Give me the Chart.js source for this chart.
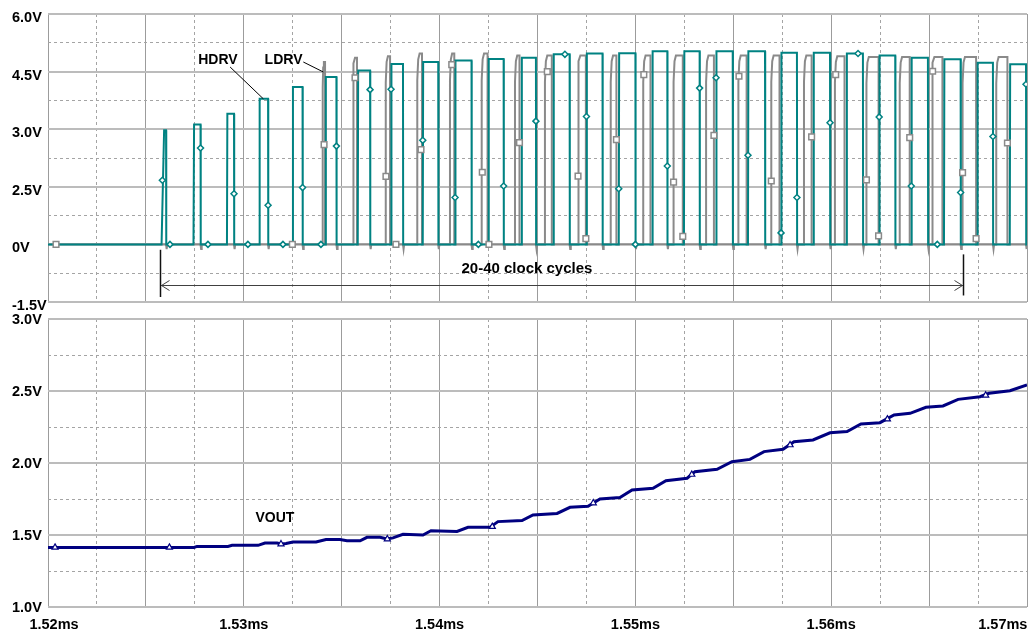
<!DOCTYPE html>
<html>
<head>
<meta charset="utf-8">
<title>HDRV / LDRV / VOUT</title>
<script src="https://cdn.jsdelivr.net/npm/chart.js@4.4.1/dist/chart.umd.min.js"></script>
<style>
  html, body { margin: 0; padding: 0; background: #fff; }
  #wrap { position: relative; width: 1028px; height: 631px; overflow: hidden; }
  .panel { position: absolute; left: 0; width: 1028px; }
  .panel canvas { display: block; }
  #topPanel { top: 0; height: 316px; }
  #bottomPanel { top: 305px; height: 326px; }
</style>
</head>
<body>
<div id="wrap">
  <div class="panel" id="topPanel"><canvas id="drvChart" width="1028" height="316"></canvas></div>
  <div class="panel" id="bottomPanel"><canvas id="voutChart" width="1028" height="326"></canvas></div>
</div>
<script>
// axis labels
const timeLabels = ['1.52ms', '1.53ms', '1.54ms', '1.55ms', '1.56ms', '1.57ms'];
const drvLabels = ['-1.5V', '0V', '2.5V', '3.0V', '4.5V', '6.0V'];
const voutLabels = ['1.0V', '1.5V', '2.0V', '2.5V', '3.0V'];

// HDRV pulses: rising edge (ms), falling edge (ms), plateau (V)
const hdrvRise = [1.52580, 1.52743, 1.52914, 1.53079, 1.53249, 1.53417, 1.53582, 1.53752, 1.53914, 1.54079,
  1.54249, 1.54418, 1.54581, 1.54750, 1.54915, 1.55086, 1.55248, 1.55412, 1.55575, 1.55744,
  1.55909, 1.56078, 1.56245, 1.56409, 1.56576, 1.56746, 1.56912];
const hdrvFall = [1.52603, 1.52779, 1.52950, 1.53124, 1.53300, 1.53473, 1.53645, 1.53813, 1.53993, 1.54163,
  1.54327, 1.54492, 1.54664, 1.54832, 1.55000, 1.55163, 1.55328, 1.55497, 1.55662, 1.55825,
  1.55994, 1.56162, 1.56327, 1.56494, 1.56661, 1.56826, 1.56995];
const hdrvPeak = [2.97, 3.12, 3.40, 3.79, 4.10, 4.36, 4.53, 4.70, 4.75, 4.79,
  4.83, 4.86, 4.95, 4.97, 4.98, 5.03, 5.03, 5.03, 5.03, 4.99,
  4.99, 4.97, 4.92, 4.86, 4.82, 4.73, 4.69];
// time for HDRV to reach its plateau (the first pulse is only a ramp)
const hdrvRamp = [0.00013, 0.00003, 0.00002, 0.00002, 0.00002, 0.00002, 0.00002, 0.00002, 0.00002, 0.00002,
  0.00002, 0.00002, 0.00002, 0.00002, 0.00002, 0.00002, 0.00002, 0.00002, 0.00002, 0.00002,
  0.00002, 0.00002, 0.00002, 0.00002, 0.00002, 0.00002, 0.00002];

// LDRV pulses
const ldrvRise = [1.53403, 1.53558, 1.53725, 1.53886, 1.54053, 1.54215, 1.54385, 1.54538, 1.54707, 1.54874,
  1.55040, 1.55195, 1.55361, 1.55526, 1.55694, 1.55861, 1.56019, 1.56180, 1.56350, 1.56515,
  1.56671, 1.56843];
const ldrvFall = [1.53415, 1.53578, 1.53747, 1.53910, 1.54075, 1.54245, 1.54408, 1.54573, 1.54747, 1.54903,
  1.55077, 1.55242, 1.55401, 1.55568, 1.55736, 1.55900, 1.56068, 1.56242, 1.56401, 1.56568,
  1.56740, 1.56900];
const ldrvPeak = [4.75, 4.86, 4.90, 4.97, 4.97, 4.97, 4.92, 4.92, 4.92, 4.92,
  4.92, 4.92, 4.92, 4.92, 4.92, 4.92, 4.90, 4.88, 4.88, 4.88,
  4.88, 4.88];
// small undershoot on LDRV each time HDRV switches off
const ldrvDip = -0.12;

// trace markers
const hdrvMarkT = [1.52584, 1.52623, 1.52779, 1.52817, 1.52950, 1.53021, 1.53124, 1.53200, 1.53300, 1.53394,
  1.53473, 1.53645, 1.53752, 1.53914, 1.54079, 1.54198, 1.54327, 1.54492, 1.54640, 1.54750,
  1.54915, 1.55000, 1.55163, 1.55328, 1.55412, 1.55575, 1.55744, 1.55825, 1.55994, 1.56137,
  1.56245, 1.56409, 1.56542, 1.56661, 1.56826, 1.56995];
const hdrvMarkV = [1.67, 0, 2.51, 0, 1.32, 0, 1.02, 0, 1.48, 0,
  2.56, 4.03, 4.04, 2.71, 1.22, 0, 1.52, 3.21, 4.95, 3.33,
  1.45, 0, 2.04, 4.07, 4.34, 2.32, 0.3, 1.22, 3.17, 4.97,
  3.32, 1.52, 0, 1.35, 2.81, 4.17];
const ldrvMarkT = [1.52041, 1.53248, 1.53410, 1.53568, 1.53726, 1.53777, 1.53905, 1.54062, 1.54218, 1.54252,
  1.54408, 1.54550, 1.54707, 1.54747, 1.54903, 1.55043, 1.55195, 1.55242, 1.55401, 1.55529,
  1.55694, 1.55900, 1.56023, 1.56180, 1.56242, 1.56401, 1.56518, 1.56671, 1.56740, 1.56900];
const ldrvMarkV = [0, 0, 2.6, 4.34, 1.77, 0, 2.47, 4.68, 1.88, 0,
  2.65, 4.5, 1.78, 0.15, 2.73, 4.42, 1.62, 0.21, 2.84, 4.38,
  1.65, 2.8, 4.42, 1.68, 0.22, 2.78, 4.51, 1.87, 0.15, 2.64];

// VOUT trace
const voutTime = [1.52000, 1.52746, 1.52761, 1.52919, 1.52940, 1.53073, 1.53108, 1.53170, 1.53190, 1.53216,
  1.53251, 1.53369, 1.53420, 1.53491, 1.53527, 1.53594, 1.53629, 1.53696, 1.53731, 1.53762,
  1.53813, 1.53915, 1.53956, 1.54089, 1.54145, 1.54257, 1.54298, 1.54421, 1.54477, 1.54600,
  1.54666, 1.54758, 1.54819, 1.54921, 1.54983, 1.55090, 1.55156, 1.55264, 1.55304, 1.55417,
  1.55493, 1.55585, 1.55657, 1.55754, 1.55810, 1.55907, 1.55994, 1.56081, 1.56152, 1.56249,
  1.56321, 1.56403, 1.56484, 1.56571, 1.56648, 1.56760, 1.56806, 1.56913, 1.57000];
const voutValue = [1.414, 1.414, 1.421, 1.421, 1.428, 1.428, 1.444, 1.444, 1.437, 1.441,
  1.451, 1.451, 1.468, 1.468, 1.460, 1.460, 1.484, 1.484, 1.472, 1.480,
  1.505, 1.500, 1.530, 1.525, 1.553, 1.553, 1.593, 1.600, 1.639, 1.650,
  1.692, 1.700, 1.750, 1.760, 1.812, 1.824, 1.877, 1.894, 1.940, 1.956,
  2.009, 2.025, 2.079, 2.095, 2.148, 2.160, 2.210, 2.218, 2.271, 2.280,
  2.333, 2.345, 2.387, 2.396, 2.442, 2.460, 2.484, 2.502, 2.542];
const voutMarkT = [1.52036, 1.52620, 1.53190, 1.53733, 1.54269, 1.54785, 1.55288, 1.55790, 1.56287, 1.56789];
const voutMarkV = [1.414, 1.414, 1.437, 1.472, 1.558, 1.722, 1.920, 2.125, 2.305, 2.470];

// annotation anchors (data units)
const hdrvNote = { t: 1.52868, v: 4.80, from: [1.52930, 4.62], to: [1.53100, 3.79] };
const ldrvNote = { t: 1.53203, v: 4.80, from: [1.53304, 4.75], to: [1.53406, 4.49] };
const cycleNote = { start: 1.52572, end: 1.56673, v: -1.07, leftBar: [-0.14, -1.37], rightBar: [-0.26, -1.33], textT: 1.54446, textV: -0.63 };
const voutNote = { t: 1.53159, v: 1.62 };

// colours
const TEAL = '#008282';
const GRAY = '#8a8a8a';
const NAVY = '#000080';
const GRID_V = '#9c9c9c';
const GRID_H = '#bcbcbc';
const GRID_DASH = '#a4a4a4';
const FONT = '"Liberation Sans", Arial, Helvetica, sans-serif';

// square waves from the edge lists
function buildHdrv() {
    const pts = [{ x: 1.52, y: 0 }];
    hdrvRise.forEach((r, i) => {
        const f = hdrvFall[i];
        const p = hdrvPeak[i];
        const top = Math.min(r + hdrvRamp[i], f);
        pts.push({ x: r, y: 0 }, { x: top, y: p }, { x: f, y: p }, { x: f + 0.00001, y: 0 });
    });
    pts.push({ x: 1.57, y: 0 });
    return pts;
}

function buildLdrv() {
    const groups = [];
    ldrvRise.forEach((r, i) => {
        const f = ldrvFall[i];
        const p = ldrvPeak[i];
        const knee = Math.min(0.00012, (f - r) / 2);
        groups.push([{ x: r, y: 0 }, { x: r, y: p * 0.86 }, { x: r + knee * 0.4, y: p * 0.97 },
            { x: r + knee, y: p }, { x: f, y: p }, { x: f, y: 0 }]);
    });
    hdrvFall.forEach(f => {
        groups.push([{ x: f, y: 0 }, { x: f + 0.00003, y: ldrvDip }, { x: f + 0.00006, y: 0 }]);
    });
    groups.sort((a, b) => a[0].x - b[0].x);
    return [{ x: 1.52, y: 0 }, ...groups.flat(), { x: 1.57, y: 0 }];
}

function pairs(xs, ys) {
    return xs.map((x, i) => ({ x: x, y: ys[i] }));
}

// shared time axis
function timeAxis(showLabels) {
    return {
        type: 'linear',
        min: 1.52,
        max: 1.57,
        ticks: {
            display: showLabels,
            stepSize: 0.0025,
            autoSkip: false,
            maxRotation: 0,
            minRotation: 0,
            padding: 9,
            color: '#000',
            font: { family: FONT, size: 14.5, weight: 'bold' },
            callback: (value, index) => {
                if (index % 4) return '';
                const k = index / 4;
                let s = timeLabels[k];
                // keep the end labels inside the picture like the original
                if (k === 0) s = '   ' + s;
                if (k === timeLabels.length - 1) s = s + '            ';
                return s;
            }
        },
        grid: {
            drawTicks: false,
            color: c => (c.index % 2 ? GRID_DASH : GRID_V),
            lineWidth: 1
        },
        border: { display: false, dash: c => (c.index % 2 ? [3, 3] : []) },
        afterFit(scale) {
            scale.paddingLeft = 0;
            scale.paddingRight = 0;
            if (showLabels) scale.height = 24;
        }
    };
}

function voltAxis(min, max, step, labels, labelOffset) {
    return {
        type: 'linear',
        min: min,
        max: max,
        ticks: {
            stepSize: step,
            autoSkip: false,
            crossAlign: 'far',
            labelOffset: labelOffset,
            color: '#000',
            font: { family: FONT, size: 14.5, weight: 'bold' },
            callback: (value, index) => (index % 2 ? '' : labels[index / 2])
        },
        grid: {
            drawTicks: false,
            color: c => (c.index % 2 ? GRID_DASH : GRID_H),
            lineWidth: c => (c.index % 2 ? 1 : 2)
        },
        border: { display: false, dash: c => (c.index % 2 ? [3, 3] : []) },
        afterFit(scale) {
            scale.width = 36;
        }
    };
}

function line(ctx, x1, y1, x2, y2) {
    ctx.beginPath();
    ctx.moveTo(x1, y1);
    ctx.lineTo(x2, y2);
    ctx.stroke();
}

// labels, leader lines and the cycle-count dimension
const drvNotes = {
    id: 'drvNotes',
    afterDatasetsDraw(chart) {
        const { ctx, scales: { x, y } } = chart;
        ctx.save();
        ctx.strokeStyle = '#000';
        ctx.lineWidth = 1;
        [hdrvNote, ldrvNote].forEach(n => {
            line(ctx, x.getPixelForValue(n.from[0]), y.getPixelForValue(n.from[1]),
                x.getPixelForValue(n.to[0]), y.getPixelForValue(n.to[1]));
        });
        ctx.fillStyle = '#000';
        ctx.textAlign = 'center';
        ctx.textBaseline = 'middle';
        ctx.font = 'bold 14px ' + FONT;
        ctx.fillText('HDRV', x.getPixelForValue(hdrvNote.t), y.getPixelForValue(hdrvNote.v));
        ctx.fillText('LDRV', x.getPixelForValue(ldrvNote.t), y.getPixelForValue(ldrvNote.v));

        const xa = Math.round(x.getPixelForValue(cycleNote.start)) + 0.5;
        const xb = Math.round(x.getPixelForValue(cycleNote.end)) + 0.5;
        const yl = Math.round(y.getPixelForValue(cycleNote.v)) + 0.5;
        ctx.strokeStyle = '#404040';
        line(ctx, xa, yl, xb, yl);
        line(ctx, xa + 9, yl - 5, xa + 1, yl);
        line(ctx, xa + 1, yl, xa + 9, yl + 5);
        line(ctx, xb - 9, yl - 5, xb - 1, yl);
        line(ctx, xb - 1, yl, xb - 9, yl + 5);
        ctx.strokeStyle = '#111';
        ctx.lineWidth = 1.5;
        line(ctx, xa, y.getPixelForValue(cycleNote.leftBar[0]), xa, y.getPixelForValue(cycleNote.leftBar[1]));
        line(ctx, xb, y.getPixelForValue(cycleNote.rightBar[0]), xb, y.getPixelForValue(cycleNote.rightBar[1]));
        ctx.font = 'bold 15px ' + FONT;
        ctx.fillText('20-40 clock cycles', x.getPixelForValue(cycleNote.textT), y.getPixelForValue(cycleNote.textV));
        ctx.restore();
    }
};

const voutNotes = {
    id: 'voutNotes',
    afterDatasetsDraw(chart) {
        const { ctx, scales: { x, y } } = chart;
        ctx.save();
        ctx.fillStyle = '#000';
        ctx.textAlign = 'center';
        ctx.textBaseline = 'middle';
        ctx.font = 'bold 14px ' + FONT;
        ctx.fillText('VOUT', x.getPixelForValue(voutNote.t), y.getPixelForValue(voutNote.v));
        ctx.restore();
    }
};

const baseOptions = {
    responsive: false,
    animation: false,
    events: [],
    plugins: {
        legend: { display: false },
        tooltip: { enabled: false }
    }
};

// top panel: gate drives
new Chart(document.getElementById('drvChart'), {
    type: 'line',
    data: {
        datasets: [
            {
                label: 'HDRV marks',
                data: pairs(hdrvMarkT, hdrvMarkV),
                showLine: false,
                pointStyle: 'rectRot',
                pointRadius: 3,
                pointBorderWidth: 1.5,
                pointBorderColor: TEAL,
                pointBackgroundColor: '#fff',
                order: 0
            },
            {
                label: 'LDRV marks',
                data: pairs(ldrvMarkT, ldrvMarkV),
                showLine: false,
                pointStyle: 'rect',
                pointRadius: 4,
                pointBorderWidth: 1.5,
                pointBorderColor: GRAY,
                pointBackgroundColor: '#fff',
                order: 0
            },
            {
                label: 'HDRV',
                data: buildHdrv(),
                borderColor: TEAL,
                borderWidth: 2,
                pointRadius: 0,
                tension: 0,
                fill: false,
                order: 1
            },
            {
                label: 'LDRV',
                data: buildLdrv(),
                borderColor: GRAY,
                borderWidth: 2,
                pointRadius: 0,
                tension: 0,
                fill: false,
                order: 2
            }
        ]
    },
    options: {
        ...baseOptions,
        layout: { autoPadding: false, padding: { left: 12, right: 1, top: 14, bottom: 14 } },
        scales: {
            x: timeAxis(false),
            y: voltAxis(-1.5, 6, 0.75, drvLabels, 4)
        }
    },
    plugins: [drvNotes]
});

// bottom panel: output voltage
new Chart(document.getElementById('voutChart'), {
    type: 'line',
    data: {
        datasets: [
            {
                label: 'VOUT marks',
                data: pairs(voutMarkT, voutMarkV),
                showLine: false,
                pointStyle: 'triangle',
                pointRadius: 3.5,
                pointBorderWidth: 1.2,
                pointBorderColor: NAVY,
                pointBackgroundColor: '#fff',
                order: 0
            },
            {
                label: 'VOUT',
                data: pairs(voutTime, voutValue),
                borderColor: NAVY,
                borderWidth: 3,
                pointRadius: 0,
                tension: 0,
                fill: false,
                order: 1
            }
        ]
    },
    options: {
        ...baseOptions,
        layout: { autoPadding: false, padding: { left: 12, right: 1, top: 14, bottom: 0 } },
        scales: {
            x: timeAxis(true),
            y: voltAxis(1, 3, 0.25, voutLabels, 1)
        }
    },
    plugins: [voutNotes]
});
</script>
</body>
</html>
